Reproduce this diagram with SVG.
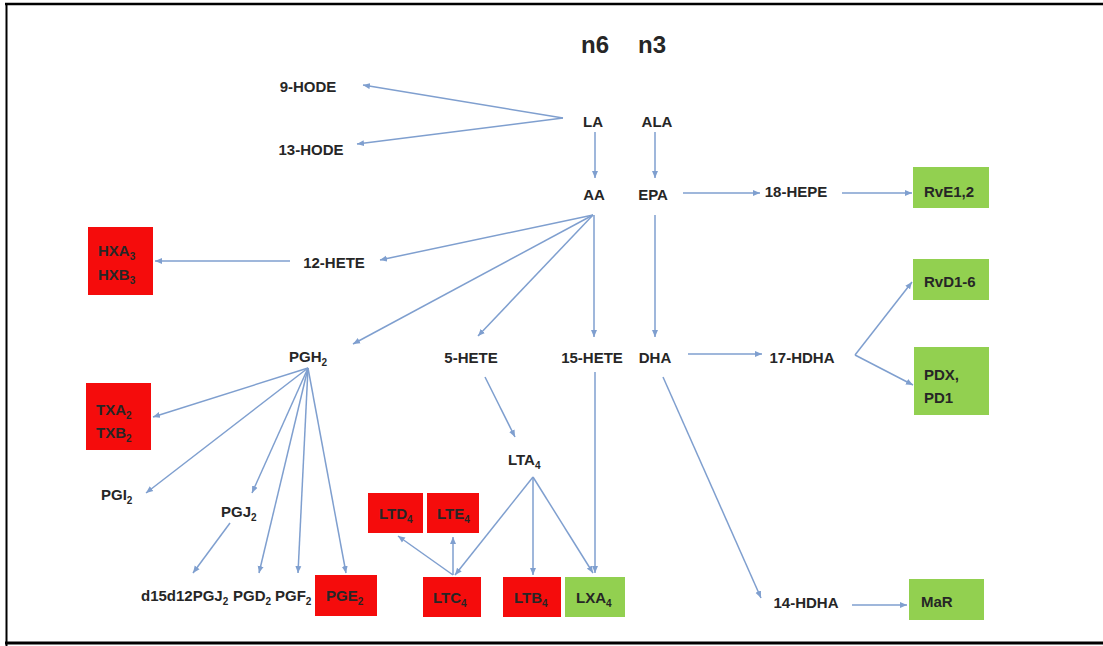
<svg xmlns="http://www.w3.org/2000/svg" width="1103" height="646" viewBox="0 0 1103 646">
<style>
.t{font-family:"Liberation Sans",Arial,sans-serif;font-weight:bold;font-size:15px;fill:#262626}
.h{font-family:"Liberation Sans",Arial,sans-serif;font-weight:bold;font-size:24px;fill:#262626}
.m{text-anchor:middle}
.red{fill:#f50c0c}
.grn{fill:#92d050}
.c line{stroke:#7f9fcf;stroke-width:1.5;fill:none;marker-end:url(#ah)}
.s{font-size:10px}
</style>
<defs>
<marker id="ah" markerUnits="userSpaceOnUse" markerWidth="8" markerHeight="7" refX="7" refY="3.5" orient="auto">
<path d="M0,0.5 L7,3.5 L0,6.5 z" fill="#7f9fcf"/>
</marker>
</defs>
<rect width="1103" height="646" fill="#fff"/>
<g id="frame" stroke="#000">
<line x1="5" y1="4" x2="1103" y2="4" stroke-width="2.5"/>
<line x1="6.5" y1="3" x2="6.5" y2="646" stroke-width="2"/>
<line x1="5" y1="643" x2="1103" y2="643" stroke-width="3"/>
</g>
<g id="connectors" class="c">
<line x1="563" y1="118" x2="363" y2="85"/>
<line x1="563" y1="118" x2="357" y2="144"/>
<line x1="595" y1="132" x2="595" y2="178"/>
<line x1="655" y1="132" x2="655" y2="178"/>
<line x1="683" y1="193" x2="760" y2="193"/>
<line x1="842" y1="193" x2="912" y2="193"/>
<line x1="593" y1="215" x2="380" y2="260"/>
<line x1="290" y1="261" x2="155" y2="261"/>
<line x1="593" y1="215" x2="353" y2="344"/>
<line x1="593" y1="215" x2="478" y2="336"/>
<line x1="594" y1="215" x2="594" y2="337"/>
<line x1="655" y1="215" x2="655" y2="337"/>
<line x1="688" y1="354" x2="762" y2="354"/>
<line x1="855" y1="355" x2="912" y2="282"/>
<line x1="855" y1="355" x2="913" y2="385"/>
<line x1="308" y1="368" x2="153" y2="417"/>
<line x1="308" y1="368" x2="146" y2="493"/>
<line x1="308" y1="368" x2="252" y2="493"/>
<line x1="308" y1="368" x2="259" y2="573"/>
<line x1="308" y1="368" x2="298" y2="573"/>
<line x1="308" y1="368" x2="346" y2="573"/>
<line x1="230" y1="523" x2="193" y2="573"/>
<line x1="485" y1="377" x2="515" y2="437"/>
<line x1="533" y1="477" x2="455" y2="575"/>
<line x1="533" y1="477" x2="533" y2="575"/>
<line x1="533" y1="477" x2="593" y2="573"/>
<line x1="595" y1="372" x2="595" y2="573"/>
<line x1="453" y1="575" x2="398" y2="536"/>
<line x1="453" y1="575" x2="453" y2="537"/>
<line x1="663" y1="377" x2="761" y2="598"/>
<line x1="852" y1="605" x2="907" y2="605"/>
</g>
<g id="n6"><text class="h m" x="595" y="53">n6</text></g>
<g id="n3"><text class="h m" x="652" y="53">n3</text></g>
<g id="hode9"><text class="t m" x="308" y="92">9-HODE</text></g>
<g id="hode13"><text class="t m" x="311" y="155">13-HODE</text></g>
<g id="la"><text class="t m" x="593" y="127">LA</text></g>
<g id="ala"><text class="t m" x="657" y="127">ALA</text></g>
<g id="aa"><text class="t m" x="594" y="200">AA</text></g>
<g id="epa"><text class="t m" x="653" y="200">EPA</text></g>
<g id="hepe18"><text class="t m" x="796" y="197">18-HEPE</text></g>
<g id="rve"><rect class="grn" x="913" y="167" width="76" height="41"/><text class="t" x="924" y="197">RvE1,2</text></g>
<g id="hete12"><text class="t m" x="334" y="268">12-HETE</text></g>
<g id="hxa"><rect class="red" x="88" y="227" width="65" height="68"/>
<text class="t" x="98" y="256">HXA<tspan class="s" dy="4">3</tspan></text>
<text class="t" x="98" y="280">HXB<tspan class="s" dy="4">3</tspan></text></g>
<g id="pgh2"><text class="t" x="289" y="362">PGH<tspan class="s" dy="4">2</tspan></text></g>
<g id="hete5"><text class="t m" x="471" y="363">5-HETE</text></g>
<g id="hete15"><text class="t m" x="592" y="363">15-HETE</text></g>
<g id="dha"><text class="t m" x="655" y="363">DHA</text></g>
<g id="hdha17"><text class="t m" x="802" y="363">17-HDHA</text></g>
<g id="rvd"><rect class="grn" x="913" y="259" width="76" height="41"/><text class="t" x="924" y="287">RvD1-6</text></g>
<g id="pdx"><rect class="grn" x="914" y="347" width="75" height="68"/>
<text class="t" x="924" y="380">PDX,</text><text class="t" x="924" y="403">PD1</text></g>
<g id="txa"><rect class="red" x="86" y="383" width="65" height="67"/>
<text class="t" x="96" y="415">TXA<tspan class="s" dy="4">2</tspan></text>
<text class="t" x="96" y="438">TXB<tspan class="s" dy="4">2</tspan></text></g>
<g id="pgi2"><text class="t" x="101" y="500">PGI<tspan class="s" dy="4">2</tspan></text></g>
<g id="pgj2"><text class="t" x="221" y="517">PGJ<tspan class="s" dy="4">2</tspan></text></g>
<g id="d15"><text class="t" x="141" y="601">d15d12PGJ<tspan class="s" dy="4">2</tspan></text></g>
<g id="pgd2"><text class="t" x="233" y="601">PGD<tspan class="s" dy="4">2</tspan></text></g>
<g id="pgf2"><text class="t" x="275" y="601">PGF<tspan class="s" dy="4">2</tspan></text></g>
<g id="pge2"><rect class="red" x="315" y="575" width="62" height="41"/><text class="t" x="326" y="601">PGE<tspan class="s" dy="4">2</tspan></text></g>
<g id="lta4"><text class="t" x="508" y="465">LTA<tspan class="s" dy="4">4</tspan></text></g>
<g id="ltd4"><rect class="red" x="368" y="493" width="55" height="40"/><text class="t" x="379" y="519">LTD<tspan class="s" dy="4">4</tspan></text></g>
<g id="lte4"><rect class="red" x="427" y="493" width="52" height="40"/><text class="t" x="437" y="519">LTE<tspan class="s" dy="4">4</tspan></text></g>
<g id="ltc4"><rect class="red" x="423" y="577" width="58" height="40"/><text class="t" x="433" y="603">LTC<tspan class="s" dy="4">4</tspan></text></g>
<g id="ltb4"><rect class="red" x="503" y="577" width="58" height="40"/><text class="t" x="514" y="603">LTB<tspan class="s" dy="4">4</tspan></text></g>
<g id="lxa4"><rect class="grn" x="565" y="577" width="60" height="40"/><text class="t" x="576" y="603">LXA<tspan class="s" dy="4">4</tspan></text></g>
<g id="hdha14"><text class="t m" x="806" y="608">14-HDHA</text></g>
<g id="mar"><rect class="grn" x="909" y="579" width="75" height="41"/><text class="t" x="921" y="607">MaR</text></g>
</svg>
